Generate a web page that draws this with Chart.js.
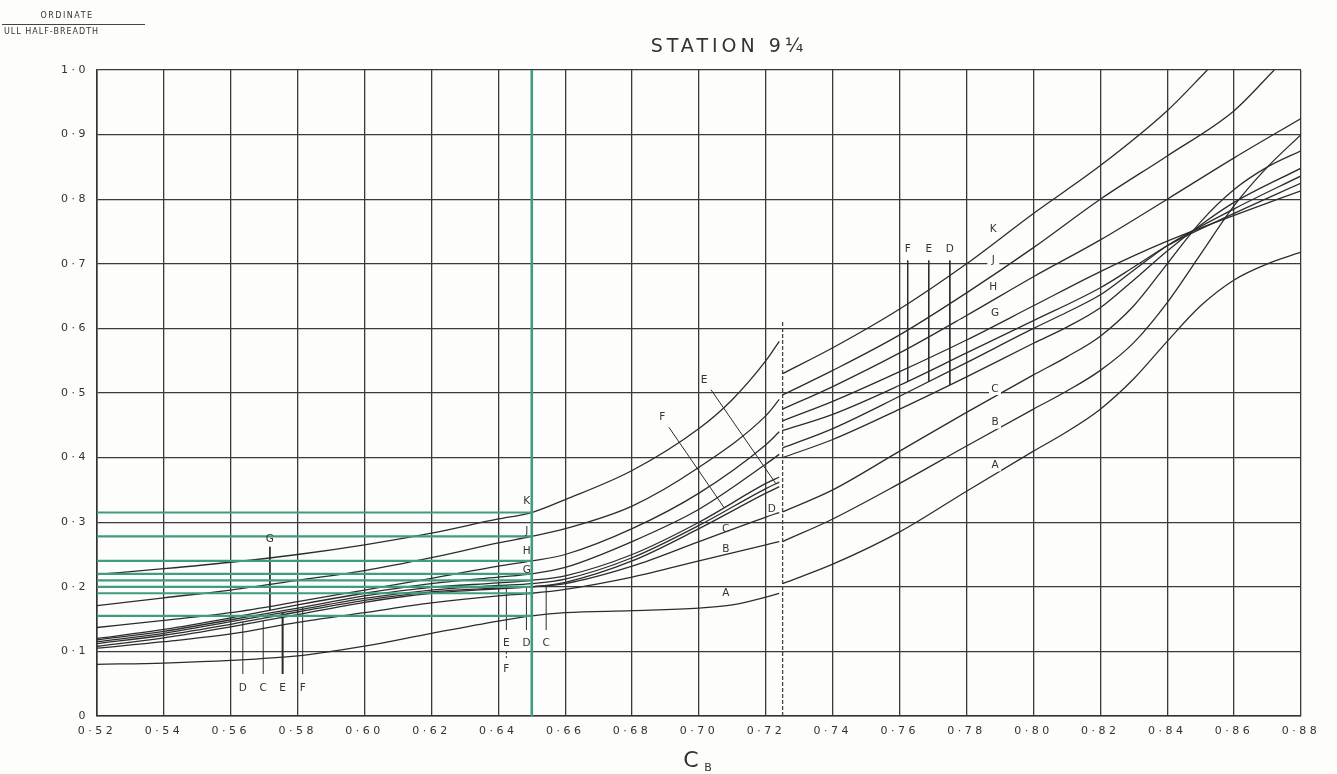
<!doctype html>
<html>
<head>
<meta charset="utf-8" />
<title>Station 9 1/4</title>
<script src="https://cdn.jsdelivr.net/npm/chart.js"></script>
<style>
  html,body{margin:0;padding:0;background:#fdfdfc}
  #chart{display:block}
</style>
</head>
<body>
<canvas id="chart" width="1337" height="774"></canvas>
<script>
// tick labels as printed on the sheet
const xTickLabels = ['0·52','0·54','0·56','0·58','0·60','0·62','0·64','0·66','0·68','0·70',
  '0·72','0·74','0·76','0·78','0·80','0·82','0·84','0·86','0·88'];
const yTickLabels = ['0','0·1','0·2','0·3','0·4','0·5','0·6','0·7','0·8','0·9','1·0'];

// curves: [Cb, ordinate / full half-breadth]; null = break in the curve at Cb 0.725
const curveA = [[0.52,0.08],[0.54,0.082],[0.56,0.086],[0.58,0.093],[0.59,0.10],[0.60,0.108],[0.62,0.128],[0.64,0.147],[0.65,0.155],[0.66,0.16],[0.68,0.163],[0.70,0.167],[0.71,0.172],[0.72,0.184],[0.724,0.19],null,[0.725,0.205],[0.74,0.235],[0.76,0.285],[0.78,0.348],[0.80,0.41],[0.81,0.44],[0.82,0.475],[0.83,0.522],[0.84,0.58],[0.85,0.635],[0.86,0.675],[0.87,0.70],[0.88,0.718]];
const curveB = [[0.52,0.105],[0.54,0.115],[0.56,0.127],[0.58,0.145],[0.60,0.16],[0.62,0.175],[0.64,0.186],[0.65,0.19],[0.66,0.196],[0.68,0.215],[0.70,0.24],[0.72,0.265],[0.724,0.27],null,[0.725,0.27],[0.74,0.305],[0.76,0.36],[0.78,0.418],[0.80,0.475],[0.81,0.503],[0.82,0.535],[0.83,0.578],[0.84,0.64],[0.85,0.715],[0.86,0.79],[0.87,0.85],[0.88,0.90]];
const curveC = [[0.52,0.108],[0.54,0.121],[0.56,0.138],[0.58,0.157],[0.60,0.176],[0.62,0.19],[0.64,0.197],[0.65,0.20],[0.66,0.205],[0.68,0.232],[0.70,0.27],[0.72,0.308],[0.724,0.315],null,[0.725,0.316],[0.74,0.35],[0.76,0.41],[0.78,0.47],[0.80,0.528],[0.81,0.556],[0.82,0.588],[0.83,0.635],[0.84,0.70],[0.85,0.765],[0.86,0.815],[0.87,0.85],[0.88,0.875]];
const curveD = [[0.52,0.112],[0.54,0.125],[0.56,0.142],[0.58,0.161],[0.60,0.179],[0.62,0.192],[0.64,0.198],[0.65,0.20],[0.66,0.207],[0.68,0.24],[0.70,0.29],[0.72,0.345],[0.724,0.355],null,[0.725,0.40],[0.74,0.428],[0.76,0.475],[0.78,0.525],[0.80,0.577],[0.81,0.602],[0.82,0.632],[0.83,0.675],[0.84,0.72],[0.85,0.76],[0.86,0.795],[0.88,0.848]];
const curveE = [[0.52,0.115],[0.54,0.128],[0.56,0.146],[0.58,0.164],[0.60,0.182],[0.62,0.195],[0.64,0.202],[0.65,0.205],[0.66,0.212],[0.68,0.245],[0.70,0.295],[0.72,0.352],[0.724,0.362],null,[0.725,0.415],[0.74,0.445],[0.76,0.495],[0.78,0.547],[0.80,0.60],[0.81,0.625],[0.82,0.652],[0.83,0.69],[0.84,0.728],[0.86,0.785],[0.88,0.836]];
const curveF = [[0.52,0.118],[0.54,0.131],[0.56,0.149],[0.58,0.167],[0.60,0.186],[0.62,0.199],[0.64,0.206],[0.65,0.21],[0.66,0.217],[0.68,0.25],[0.70,0.30],[0.72,0.36],[0.724,0.37],null,[0.725,0.442],[0.74,0.467],[0.76,0.512],[0.78,0.562],[0.80,0.612],[0.82,0.663],[0.83,0.695],[0.84,0.728],[0.86,0.778],[0.88,0.825]];
const curveG = [[0.52,0.12],[0.54,0.134],[0.56,0.152],[0.58,0.172],[0.60,0.19],[0.62,0.205],[0.64,0.215],[0.65,0.22],[0.66,0.23],[0.68,0.27],[0.70,0.32],[0.72,0.39],[0.724,0.405],null,[0.725,0.457],[0.74,0.487],[0.76,0.533],[0.78,0.582],[0.80,0.635],[0.82,0.688],[0.84,0.735],[0.86,0.775],[0.88,0.813]];
const curveH = [[0.52,0.137],[0.54,0.148],[0.56,0.16],[0.58,0.177],[0.60,0.195],[0.62,0.213],[0.64,0.232],[0.65,0.24],[0.66,0.25],[0.68,0.29],[0.70,0.345],[0.72,0.42],[0.724,0.44],null,[0.725,0.475],[0.74,0.51],[0.76,0.562],[0.78,0.62],[0.80,0.68],[0.82,0.737],[0.84,0.80],[0.86,0.864],[0.88,0.925]];
const curveJ = [[0.52,0.171],[0.54,0.183],[0.56,0.195],[0.58,0.21],[0.60,0.225],[0.62,0.245],[0.64,0.268],[0.65,0.278],[0.66,0.29],[0.68,0.325],[0.70,0.385],[0.72,0.465],[0.724,0.49],null,[0.725,0.497],[0.74,0.535],[0.76,0.59],[0.78,0.655],[0.80,0.725],[0.82,0.80],[0.84,0.867],[0.86,0.937],[0.872,1.0]];
const curveK = [[0.52,0.219],[0.54,0.228],[0.56,0.238],[0.58,0.25],[0.60,0.265],[0.62,0.283],[0.64,0.305],[0.65,0.315],[0.66,0.335],[0.68,0.38],[0.70,0.445],[0.71,0.49],[0.72,0.55],[0.724,0.58],null,[0.725,0.53],[0.74,0.57],[0.76,0.63],[0.78,0.70],[0.80,0.778],[0.82,0.852],[0.84,0.937],[0.852,1.0]];

const curveNames = ['A','B','C','D','E','F','G','H','J','K'];
const curves = [curveA, curveB, curveC, curveD, curveE, curveF, curveG, curveH, curveJ, curveK];

// green construction lines: values at Cb 0.65 carried back to 0.52
const greenCurves = ['K','J','H','G','F','D','B','A'];
const greenFrom = 0.52, greenAt = 0.65;
const breakCb = 0.725, breakTop = 0.61;

// vertical leader lines from a label down/up to its curve
const leaderCurve = ['D','C','E','F','G','E','D','C','F','E','D'];
const leaderCb    = [0.5636,0.5697,0.5755,0.5815,0.5717,0.6424,0.6484,0.6543,0.7624,0.7687,0.775];
const leaderFrom  = [0.065,0.065,0.065,0.065,0.262,0.133,0.133,0.133,0.705,0.705,0.705];
// sloping leaders: start point, end Cb on the curve
const slantCurve = ['E','F'];
const slantFromCb = [0.7036,0.691];
const slantFromY  = [0.505,0.447];
const slantToCb   = [0.723,0.7075];

// curve letters
const labelText = ['D','C','E','F','G','E','D','C','F','K','J','H','G','E','F','D','C','B','A','K','J','H','G','C','B','A','F','E','D'];
const labelCb   = [0.5636,0.5697,0.5755,0.5815,0.5717,0.6424,0.6484,0.6543,0.6424,0.6485,0.6485,0.6485,0.6485,0.7015,0.689,0.7218,0.708,0.708,0.708,0.788,0.788,0.788,0.7885,0.7885,0.7885,0.7885,0.7624,0.7687,0.775];
const labelY    = [0.043,0.043,0.043,0.043,0.274,0.113,0.113,0.113,0.073,0.333,0.286,0.255,0.225,0.52,0.462,0.32,0.289,0.258,0.19,0.754,0.705,0.664,0.624,0.506,0.454,0.388,0.722,0.722,0.722];

function curveOf(name) { return curves[curveNames.indexOf(name)]; }

function valueAt(curve, cb) {
  for (let i = 0; i < curve.length - 1; i++) {
    const a = curve[i], b = curve[i + 1];
    if (!a || !b) continue;
    if (cb >= a[0] && cb <= b[0]) return a[1] + (b[1] - a[1]) * (cb - a[0]) / (b[0] - a[0]);
  }
  return null;
}

function toPoints(curve) {
  const pts = [];
  curve.forEach((p, i) => {
    if (p) pts.push({ x: p[0], y: p[1] });
    else pts.push({ x: curve[i - 1][0] + 0.0005, y: null });
  });
  return pts;
}

const INK = '#2c2c2c';
const GREEN = '#3f9c7e';
const PAPER = '#fdfdfc';
const datasets = [];

curves.forEach((c, i) => {
  datasets.push({
    label: 'Curve ' + curveNames[i], data: toPoints(c), showLine: true,
    borderColor: INK, borderWidth: 1.3, pointRadius: 0, cubicInterpolationMode: 'monotone',
    spanGaps: false, order: 2
  });
});

greenCurves.forEach((n) => {
  const v = valueAt(curveOf(n), greenAt);
  datasets.push({
    label: 'green ' + n, data: [{ x: greenFrom, y: v }, { x: greenAt, y: v }], showLine: true,
    borderColor: GREEN, borderWidth: 2.2, pointRadius: 0, order: 1
  });
});

datasets.push({
  label: 'green 0.65', data: [{ x: greenAt, y: 0 }, { x: greenAt, y: 1 }], showLine: true,
  borderColor: GREEN, borderWidth: 2.6, pointRadius: 0, order: 1
});
datasets.push({
  label: 'break', data: [{ x: breakCb, y: 0 }, { x: breakCb, y: breakTop }], showLine: true,
  borderColor: '#444', borderWidth: 1.3, borderDash: [4, 2], pointRadius: 0, order: 2
});

leaderCurve.forEach((n, i) => {
  const cb = leaderCb[i];
  datasets.push({
    label: 'leader ' + n, data: [{ x: cb, y: leaderFrom[i] }, { x: cb, y: valueAt(curveOf(n), cb) }],
    showLine: true, borderColor: INK, borderWidth: i === 2 ? 2 : 1, pointRadius: 0, order: 2
  });
});
// dashed tie between the lower E and F letters
datasets.push({
  label: 'leader EF', data: [{ x: 0.6424, y: 0.099 }, { x: 0.6424, y: 0.087 }], showLine: true,
  borderColor: INK, borderWidth: 1, borderDash: [2, 2], pointRadius: 0, order: 2
});
slantCurve.forEach((n, i) => {
  datasets.push({
    label: 'slant ' + n,
    data: [{ x: slantFromCb[i], y: slantFromY[i] }, { x: slantToCb[i], y: valueAt(curveOf(n), slantToCb[i]) }],
    showLine: true, borderColor: INK, borderWidth: 1, pointRadius: 0, order: 2
  });
});

const sheetText = {
  id: 'sheetText',
  beforeDraw(chart) {
    const ctx = chart.ctx;
    ctx.save();
    ctx.fillStyle = PAPER;
    ctx.fillRect(0, 0, chart.width, chart.height);
    ctx.restore();
    // wide spacing for the axis numbers
    ctx.letterSpacing = '3.5px';
  },
  afterDatasetsDraw(chart) {
    const ctx = chart.ctx, xs = chart.scales.x, ys = chart.scales.y;
    ctx.save();
    ctx.letterSpacing = '0px';
    ctx.font = '10.5px "DejaVu Sans"';
    ctx.textAlign = 'center';
    ctx.textBaseline = 'middle';
    labelText.forEach((t, i) => {
      const px = xs.getPixelForValue(labelCb[i]);
      const py = ys.getPixelForValue(labelY[i]);
      if (labelCb[i] > 0.78) {
        ctx.fillStyle = PAPER;
        ctx.fillRect(px - 6, py - 6, 12, 12);
      }
      ctx.fillStyle = '#333';
      ctx.fillText(t, px, py);
    });
    ctx.restore();
  },
  afterDraw(chart) {
    const ctx = chart.ctx;
    ctx.save();
    ctx.fillStyle = '#333';
    ctx.textBaseline = 'alphabetic';
    ctx.textAlign = 'center';
    ctx.letterSpacing = '4px';
    ctx.font = '19px "DejaVu Sans"';
    ctx.fillText('STATION 9¼', 729, 52);
    ctx.letterSpacing = '0px';
    ctx.font = '22px "DejaVu Sans"';
    ctx.fillText('C', 691, 767);
    ctx.font = '11px "DejaVu Sans"';
    ctx.fillText('B', 708, 771);
    ctx.letterSpacing = '1.5px';
    ctx.font = '8px "DejaVu Sans"';
    ctx.fillText('ORDINATE', 67, 18);
    ctx.textAlign = 'left';
    ctx.letterSpacing = '1px';
    ctx.fillText('ULL HALF-BREADTH', 4, 34);
    ctx.strokeStyle = '#444';
    ctx.lineWidth = 1;
    ctx.beginPath();
    ctx.moveTo(2, 24.5);
    ctx.lineTo(145, 24.5);
    ctx.stroke();
    ctx.restore();
  }
};

Chart.defaults.font.family = '"DejaVu Sans", sans-serif';
Chart.defaults.color = '#333';

new Chart(document.getElementById('chart'), {
  type: 'scatter',
  data: { datasets },
  options: {
    responsive: false,
    animation: false,
    events: [],
    layout: { padding: { top: 70, right: 36, left: 0, bottom: 0 } },
    plugins: { legend: { display: false }, tooltip: { enabled: false }, title: { display: false } },
    scales: {
      x: {
        type: 'linear', min: 0.52, max: 0.88,
        afterFit: (s) => { s.height = 58; },
        ticks: {
          stepSize: 0.02, padding: 9, font: { size: 11 }, color: '#333', maxRotation: 0,
          callback: (v) => xTickLabels[Math.round((v - 0.52) / 0.02)] || ''
        },
        grid: { color: '#3a3a3a', lineWidth: 1.3, drawTicks: false },
        border: { color: '#333', width: 1.6 }
      },
      y: {
        type: 'linear', min: 0, max: 1,
        afterFit: (s) => { s.width = 97; },
        ticks: {
          stepSize: 0.1, padding: 8, font: { size: 11 }, color: '#333',
          callback: (v) => yTickLabels[Math.round(v * 10)] || ''
        },
        grid: { color: '#3a3a3a', lineWidth: 1.3, drawTicks: false },
        border: { color: '#333', width: 1.6 }
      }
    }
  },
  plugins: [sheetText]
});
</script>
</body>
</html>
